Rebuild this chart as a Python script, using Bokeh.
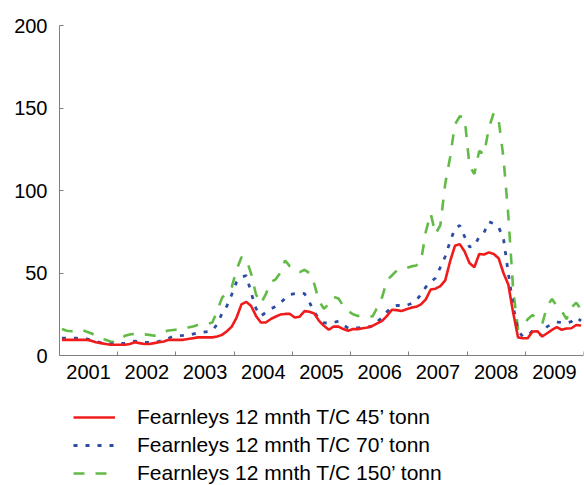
import numpy as np
from bokeh.plotting import figure
from bokeh.models import (Range1d, FixedTicker, Legend, LegendItem, ColumnDataSource)
from bokeh.embed import file_html
from bokeh.resources import INLINE

# ---- data (monthly, Jan 2001 .. Dec 2009) ----
years = [2001, 2002, 2003, 2004, 2005, 2006, 2007, 2008, 2009]
year_labels = ["2001", "2002", "2003", "2004", "2005", "2006", "2007", "2008", "2009"]
y_ticks = [0, 50, 100, 150, 200]

tc_45 = [
    9.5, 9.5, 9.5, 9.5, 9.5, 9.5, 9, 8, 7.5, 7, 6.5, 6.5,
    6.5, 6.5, 7, 8, 7.5, 7, 7, 7.5, 8, 8.5, 9.5, 9.5,
    9.5, 9.5, 10, 10.5, 11, 11, 11, 11, 11.5, 12.5, 14.7, 17.5,
    23, 31, 32.5, 30, 24, 20, 20, 22, 23.5, 24.8, 25.2, 25.2,
    23, 23.5, 26.9, 26.5, 25.5, 21, 18, 15.6, 17.6, 17.5, 16, 15,
    16, 16, 16.5, 17, 18, 19.5, 21, 24, 27.7, 27.5, 27, 28,
    29, 29.5, 31, 34, 40, 40.5, 42, 45.5, 57, 66.5, 67.5, 63,
    56, 53.5, 61.5, 61.2, 62.5, 61.5, 59, 50, 43, 26, 11, 10.5,
    10.5, 14.5, 14.7, 11.5, 13.5, 15.5, 17.2, 15.6, 16.4, 16.5, 18.5, 18.2,
]
tc_70 = [
    10.5, 10.5, 10.5, 10.5, 10.3, 10, 9.5, 8.5, 7.8, 7.3, 7, 7,
    7, 7.5, 8.3, 8.7, 8.3, 8, 8, 8, 8.5, 9.3, 10.5, 11.7,
    12, 12.2, 12.5, 13, 13.7, 14, 14.5, 15, 19, 25.5, 30, 37,
    44.5, 47.5, 48.5, 38, 28.5, 24, 26, 28, 29.7, 32, 34.5, 37,
    37.5, 37.8, 37.5, 32.3, 26.5, 22, 19.8, 19.6, 20, 20.8, 18.5, 16.6,
    16.5, 16.8, 17, 17.3, 17.6, 20.5, 23, 26.5, 29.5, 30.3, 30.3, 30.3,
    31.5, 33.3, 37, 41.5, 44.5, 47, 53.5, 60, 69, 77, 78.8, 72,
    65.8, 66.3, 72, 74.5, 81, 80, 77.8, 71, 50, 30, 15, 11.5,
    12, 15, 13.5, 12, 17.5, 19, 20.2, 20, 19.7, 20.5, 23, 21,
]
tc_150 = [
    16, 15, 14.7, 15, 15.6, 14.5, 13.5, 12, 10.5, 9.5, 8.5, 8,
    9.5, 12, 12.8, 13.1, 13, 12.8, 12.5, 12, 13, 14.5, 15.2, 15.5,
    15.8, 16.3, 17, 17.6, 18.5, 19.2, 19.2, 20, 27, 35, 38, 41.5,
    52, 59.6, 58.6, 49.5, 37, 31.5, 37, 44.5, 46, 50, 57.6, 54,
    52.5, 50.5, 51.9, 50, 43.4, 33, 28.3, 31.3, 35.5, 34.5, 30, 27,
    25, 24, 24.2, 24, 23.6, 29, 35.4, 45.5, 48.5, 51.5, 52, 53,
    54, 54.5, 57, 75, 86, 73.7, 79, 104, 120, 140, 145, 144,
    115, 110, 124, 122, 138, 147, 143, 120, 85, 40, 16, 17.5,
    22, 24.5, 22, 19.2, 30, 34.3, 30, 27, 22, 29, 32, 28,
]
series_names = [
    "Fearnleys 12 mnth T/C 45\u2019 tonn",
    "Fearnleys 12 mnth T/C 70\u2019 tonn",
    "Fearnleys 12 mnth T/C 150\u2019 tonn",
]

# x positions: middle of each month, in fractional years
n = len(tc_45)
t = [years[0] + (i + 0.5) / 12.0 for i in range(n)]
src = ColumnDataSource(dict(t=t, a=tc_45, b=tc_70, c=tc_150))

FONT = "Liberation Sans"
AXIS_COL = "#7f7f7f"

# layout: frame runs from the top of the value axis down to the page bottom,
# the value axis (0..200) occupies the upper 330 px; the legend sits below 0.
W, H = 584, 485
TOP, LEFT, RIGHT = 25, 59, 1
AXIS_PX = 330.0                      # pixels for 0..200
frame_h = H - TOP
y_start = 200 - frame_h * 200.0 / AXIS_PX

p = figure(width=W, height=H, output_backend="svg", toolbar_location=None,
           x_range=Range1d(years[0], years[-1] + 1),
           y_range=Range1d(y_start, 200),
           min_border_left=LEFT, min_border_right=RIGHT, min_border_top=TOP,
           min_border_bottom=0)
p.outline_line_color = None
p.xgrid.grid_line_color = None
p.ygrid.grid_line_color = None
p.background_fill_color = "white"
p.border_fill_color = "white"

r150 = p.line("t", "c", source=src, line_color="#63bb47", line_width=2.6,
              line_dash="11 11")
r70 = p.line("t", "b", source=src, line_color="#2f4ca3", line_width=2.8,
             line_dash="4 8")
r45 = p.line("t", "a", source=src, line_color="#f01c1c", line_width=2.6)

# x axis drawn at value 0: labels centred in each year, ticks at year boundaries
xa = p.xaxis[0]
xa.fixed_location = 0
mids = [y + 0.5 for y in years]
xa.ticker = FixedTicker(ticks=mids, minor_ticks=years + [years[-1] + 1])
xa.major_label_overrides = {m: lab for m, lab in zip(mids, year_labels)}
xa.major_tick_in = 0
xa.major_tick_out = 0
xa.minor_tick_in = 4
xa.minor_tick_out = 0
xa.minor_tick_line_color = AXIS_COL
xa.axis_line_color = AXIS_COL
xa.major_label_standoff = 9
xa.major_label_text_font = FONT
xa.major_label_text_font_size = "20px"
xa.major_label_text_color = "black"

ya = p.yaxis[0]
ya.bounds = (0, 200)
ya.ticker = FixedTicker(ticks=y_ticks)
ya.major_tick_in = 4
ya.major_tick_out = 0
ya.minor_tick_line_color = None
ya.major_tick_line_color = AXIS_COL
ya.axis_line_color = AXIS_COL
ya.major_label_standoff = 12
ya.major_label_text_font = FONT
ya.major_label_text_font_size = "20px"
ya.major_label_text_color = "black"

legend = Legend(items=[LegendItem(label=series_names[0], renderers=[r45]),
                       LegendItem(label=series_names[1], renderers=[r70]),
                       LegendItem(label=series_names[2], renderers=[r150])],
                location=(14, -2), orientation="vertical",
                border_line_color=None, background_fill_alpha=0,
                margin=0, padding=0, spacing=0,
                glyph_width=42, glyph_height=28, label_height=28,
                label_standoff=22, label_text_font=FONT,
                label_text_font_size="21px", label_text_color="black")
p.add_layout(legend, "center")

open("out.html", "w").write(file_html(p, INLINE))
